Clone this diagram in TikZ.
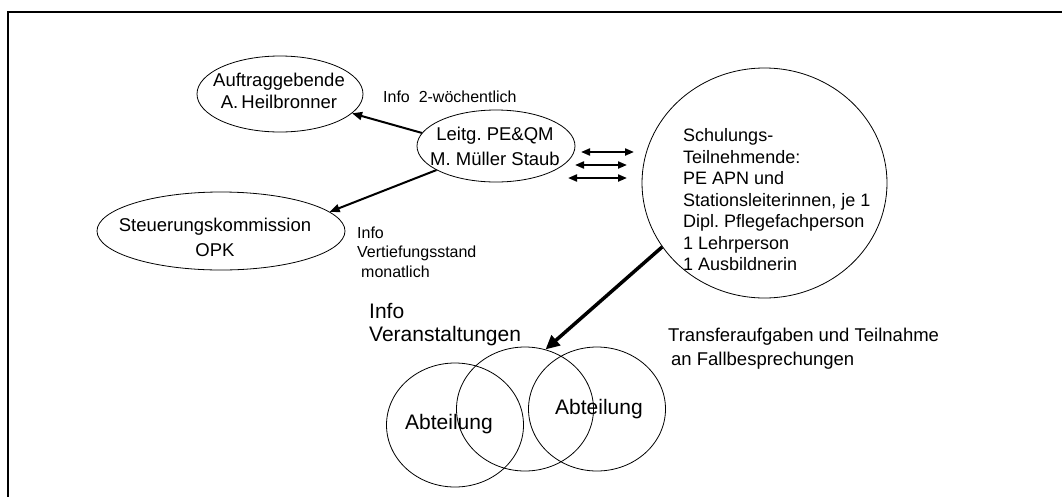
\documentclass[tikz,border=0pt]{standalone}
\usepackage{fontspec}
\setmainfont{Liberation Sans}
\usetikzlibrary{shapes.geometric,arrows.meta}
\frenchspacing
\begin{document}
\begin{tikzpicture}[x=1pt,y=-1pt,
  oval/.style={draw, ellipse, inner sep=0pt, line width=0.8pt},
  txt/.style={inner sep=0pt},
  arr/.style={line width=2pt, -{Triangle[length=10pt,width=8pt]}},
  darr/.style={line width=2pt, {Triangle[length=9pt,width=7pt]}-{Triangle[length=9pt,width=7pt]}},
  bigarr/.style={line width=3.5pt, -{Triangle[length=14pt,width=13pt]}}
]
\useasboundingbox (0,0) rectangle (1062,496);
\fill[white] (0,0) rectangle (1062,496);
\draw[line width=2pt] (8,497) -- (8,12) -- (1063,12);

% ellipses
\node[oval, minimum width=166, minimum height=76] (auf) at (280,94) {};
\node[oval, minimum width=158, minimum height=72] (lei) at (496,146) {};
\node[oval, minimum width=248, minimum height=78] (steu) at (221,231) {};
\node[oval, minimum width=245, minimum height=230] (schu) at (764.5,183) {};
\node[oval, minimum width=137, minimum height=124] (ab1) at (455,425) {};
\node[oval, minimum width=137, minimum height=124] (ab2) at (525,409) {};
\node[oval, minimum width=137, minimum height=124] (ab3) at (597,409) {};

% texts
\node[txt, align=center, font=\fontsize{18.5}{22}\selectfont] (auft) at (279,91) {Auftraggebende\\A.\,Heilbronner};
\node[txt, align=center, font=\fontsize{18.5}{25}\selectfont] (leit) at (495,146) {Leitg. PE\&QM\\M. Müller Staub};
\node[txt, align=center, font=\fontsize{18.5}{25}\selectfont] (steut) at (215,237) {Steuerungskommission\\OPK};
\node[txt, align=left, anchor=west, font=\fontsize{18}{21.5}\selectfont] (schut) at (683,200) {Schulungs-\\Teilnehmende:\\PE APN und\\Stationsleiterinnen, je 1\\Dipl. Pflegefachperson\\1 Lehrperson\\1 Ausbildnerin};
\node[txt, anchor=west, font=\fontsize{16}{19.5}\selectfont] (info1) at (383,97) {Info~~2-wöchentlich};
\node[txt, align=left, anchor=west, font=\fontsize{16}{19.5}\selectfont] (info2) at (357,252) {Info\\Vertiefungsstand\\\hspace*{4pt}monatlich};
\node[txt, align=left, anchor=west, font=\fontsize{21}{23}\selectfont] (info3) at (369,325) {Info\\Veranstaltungen};
\node[txt, align=left, anchor=west, font=\fontsize{18.5}{24}\selectfont] (trans) at (668,349) {Transferaufgaben und Teilnahme\\\hspace*{3pt}an Fallbesprechungen};
\node[txt, font=\fontsize{21}{23}\selectfont] (ab1t) at (449,424) {Abteilung};
\node[txt, font=\fontsize{21}{23}\selectfont] (ab3t) at (599,409) {Abteilung};

% connectors
\draw[arr] (lei.170) -- (auf.345);
\draw[arr] (lei.202) -- (steu.10);
\draw[bigarr] (schu.212) -- (ab2.71);

\coordinate (d1a) at (581,152); \coordinate (d1b) at (634,152);
\coordinate (d2a) at (575,165); \coordinate (d2b) at (627,165);
\coordinate (d3a) at (568,178); \coordinate (d3b) at (627,178);
\draw[darr] (d1a) -- (d1b);
\draw[darr] (d2a) -- (d2b);
\draw[darr] (d3a) -- (d3b);
\end{tikzpicture}
\end{document}
